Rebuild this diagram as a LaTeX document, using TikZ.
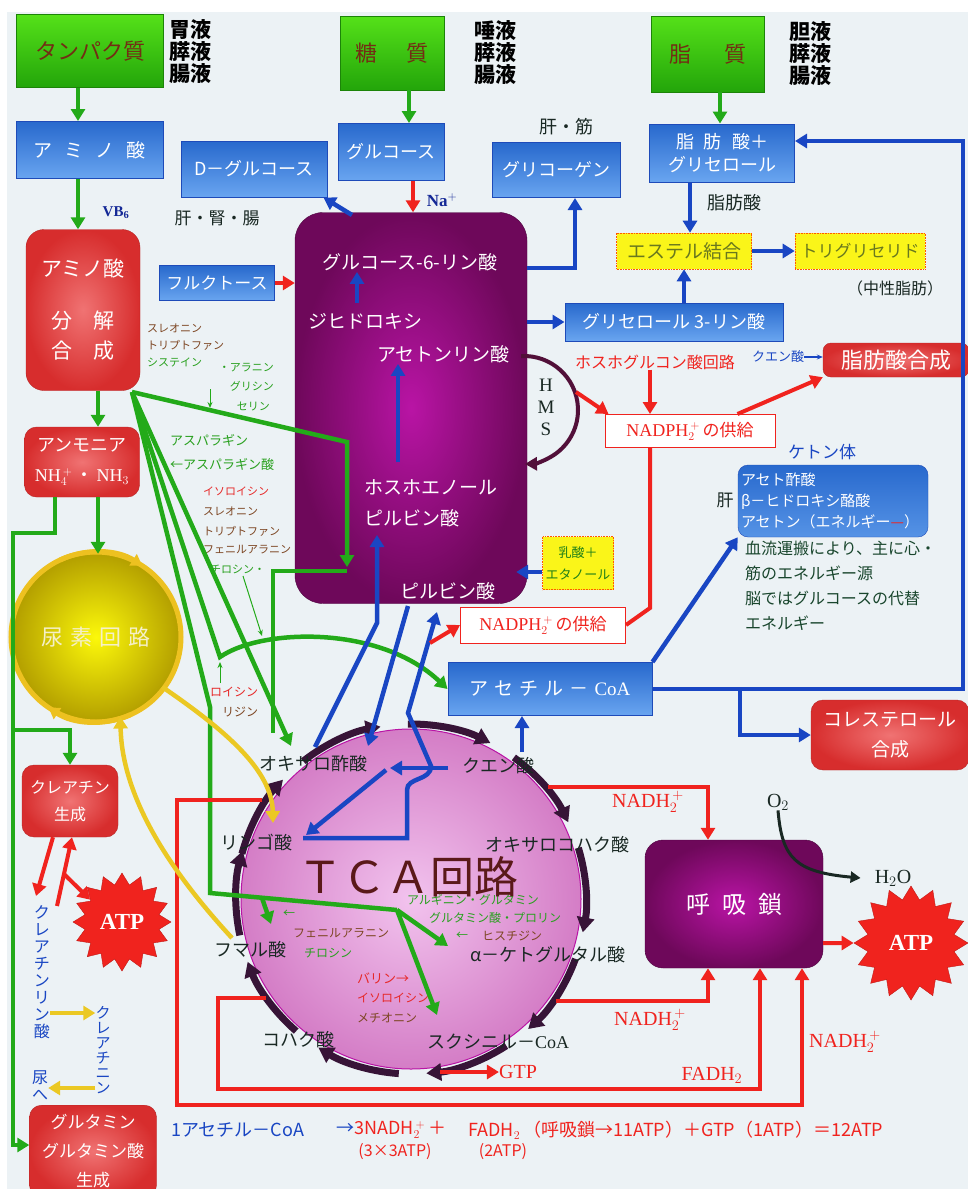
\documentclass[tikz,border=0pt]{standalone}
\usepackage{fontspec}
\setmainfont{Noto Sans CJK JP}
\newfontfamily\serifrm{Liberation Serif}
\usetikzlibrary{shapes.geometric, arrows.meta, positioning, calc}

\definecolor{bgpale}{RGB}{236,242,245}
\definecolor{grnhi}{RGB}{85,225,25}
\definecolor{grnlo}{RGB}{35,165,10}
\definecolor{grntxt}{RGB}{115,45,20}
\definecolor{bluehi}{RGB}{105,165,240}
\definecolor{bluelo}{RGB}{40,105,205}
\definecolor{blueedge}{RGB}{30,75,185}
\definecolor{redhi}{RGB}{240,115,115}
\definecolor{redlo}{RGB}{215,45,45}
\definecolor{purphi}{RGB}{185,20,165}
\definecolor{purplo}{RGB}{110,8,90}
\definecolor{boxyellow}{RGB}{250,245,25}
\definecolor{ylwtxt}{RGB}{105,120,30}
\definecolor{lineg}{RGB}{35,170,25}
\definecolor{lineb}{RGB}{25,70,195}
\definecolor{liner}{RGB}{240,35,30}
\definecolor{liney}{RGB}{235,200,35}
\definecolor{ringdark}{RGB}{55,20,55}
\definecolor{tcahi}{RGB}{242,195,238}
\definecolor{tcalo}{RGB}{212,125,198}
\definecolor{ureahi}{RGB}{252,248,10}
\definecolor{urealo}{RGB}{180,160,0}
\definecolor{ureatxt}{RGB}{245,240,200}
\definecolor{txtdark}{RGB}{25,40,35}
\definecolor{txtbrown}{RGB}{125,70,35}
\definecolor{txtgreen}{RGB}{40,160,30}
\definecolor{txtred}{RGB}{230,40,40}
\definecolor{navy}{RGB}{20,40,150}
\definecolor{kettxt}{RGB}{25,70,45}
\definecolor{tcatitle}{RGB}{90,25,25}

\newcommand\fsTCA{\fontsize{44}{48}\selectfont}
\newcommand\fsXL{\fontsize{22}{26}\selectfont}
\newcommand\fsJ{\fontsize{21}{22}\selectfont}
\newcommand\fsL{\fontsize{18}{22}\selectfont}
\newcommand\fsP{\fontsize{19}{22}\selectfont}
\newcommand\fsT{\fontsize{18}{22}\selectfont}
\newcommand\fsN{\fontsize{17}{21}\selectfont}
\newcommand\fsS{\fontsize{16}{21}\selectfont}
\newcommand\fsR{\fontsize{20}{24}\selectfont}
\newcommand\fsATP{\fontsize{23}{26}\selectfont}
\newcommand\fsXS{\fontsize{12}{15}\selectfont}
\newcommand\fsXXS{\fontsize{11}{14}\selectfont}
\newcommand\fsV{\fontsize{16}{17}\selectfont}

\tikzset{
  greenbox/.style={draw=grnlo!80!black, top color=grnhi, bottom color=grnlo, text=grntxt, font=\fsXL, inner sep=0pt},
  juice/.style={font=\fsJ\bfseries, align=center, text=black, inner sep=0pt},
  bluebox/.style={draw=blueedge, line width=1pt, top color=bluelo, bottom color=bluehi, text=white, font=\fsL, inner sep=0pt},
  redbox/.style={draw=redlo!85!black, rounded corners=12pt, inner color=redhi, outer color=redlo, text=white, font=\fsL, align=center, inner sep=0pt},
  purplebox/.style={draw=purplo!70!black, rounded corners=28pt, inner color=purphi, outer color=purplo, text=white, inner sep=0pt},
  ptext/.style={text=white, font=\fsP, inner sep=1pt},
  nadbox/.style={draw=liner, line width=1pt, fill=white, text=liner, font=\fsN, inner sep=0pt},
  ylwbox/.style={draw=orange!70!red, densely dotted, line width=0.6pt, fill=boxyellow, text=ylwtxt, inner sep=0pt},
  ketbox/.style={draw=blueedge, rounded corners=10pt, top color=bluelo, bottom color=bluehi!70!bluelo, text=white, font={\fontsize{15}{21}\selectfont}, align=left, inner sep=3pt},
  atpstar/.style={star, star points=16, star point ratio=1.3, fill=liner, draw=liner!80!black, text=white, font=\serifrm\bfseries\fsATP, inner sep=0pt},
  tcalbl/.style={text=txtdark, font=\fsT, inner sep=1pt},
  aalbl/.style={font=\fsXXS, inner sep=0pt, anchor=west},
  plainlbl/.style={text=txtdark, font=\fsN, inner sep=0pt},
  redlbl/.style={text=liner, font=\serifrm\fsR, inner sep=0pt},
  vertlbl/.style={text=lineb, font=\fsV, align=center, inner sep=0pt},
  garrow/.style={draw=lineg, line width=4.5pt, -{Triangle[length=12pt,width=14pt]}},
  gline/.style={draw=lineg, line width=4.5pt},
  gthin/.style={draw=lineg, line width=1pt, -{Stealth[length=6pt,width=5pt]}},
  barrow/.style={draw=lineb, line width=4.5pt, -{Triangle[length=12pt,width=14pt]}},
  bthin/.style={draw=lineb, line width=1.2pt, -{Stealth[length=6pt,width=5pt]}},
  rarrow/.style={draw=liner, line width=4pt, -{Triangle[length=12pt,width=14pt]}},
  rline/.style={draw=liner, line width=4pt},
  yarrow/.style={draw=liney, line width=4.5pt, -{Triangle[length=12pt,width=14pt]}},
  tcaring/.style={draw=ringdark, line width=7pt, -{Triangle[length=15pt,width=17pt]}},
  urearing/.style={draw=liney!90!orange, line width=5pt},
  ureaarr/.style={draw=liney!90!orange, line width=5pt, -{Triangle[length=11pt,width=13pt]}},
  hmsarc/.style={draw=ringdark!80!purple, line width=4pt, -{Triangle[length=12pt,width=13pt]}},
  darrow/.style={draw=txtdark, line width=3pt, -{Triangle[length=10pt,width=11pt]}},
}

\begin{document}
\begin{tikzpicture}[x=1pt, y=-1pt]
  \useasboundingbox (0,0) rectangle (968,1189);
  \fill[white] (0,0) rectangle (968,1189);
  \fill[bgpale] (7,12) rectangle (968,1189);

  % Inputs
  \node[greenbox, minimum width=147, minimum height=73] (prot) at (90,51) {タンパク質};
  \node[juice] (protjuice) at (190,52) {胃液\\膵液\\腸液};
  \node[greenbox, minimum width=104, minimum height=74] (sugar) at (392,53) {糖\hspace{30pt}質};
  \node[juice] (sugarjuice) at (495,53) {唾液\\膵液\\腸液};
  \node[greenbox, minimum width=113, minimum height=76] (lipid) at (708,54) {脂\hspace{33pt}質};
  \node[juice] (lipidjuice) at (810,54) {胆液\\膵液\\腸液};

  % Blue boxes
  \node[bluebox, minimum width=147, minimum height=57, font=\fontsize{19}{22}\selectfont] (amino) at (90,150) {ア\hspace{12pt}ミ\hspace{12pt}ノ\hspace{12pt}酸};
  \node[bluebox, minimum width=146, minimum height=56] (dglc) at (254,169) {D－グルコース};
  \node[bluebox, minimum width=106, minimum height=57] (glc) at (391,152) {グルコース};
  \node[bluebox, minimum width=128, minimum height=55] (glycogen) at (556,170) {グリコーゲン};
  \node[bluebox, minimum width=145, minimum height=58, align=center, font=\fontsize{18}{23}\selectfont] (fatgly) at (722,153) {脂\hspace{10pt}肪\hspace{10pt}酸＋\\グリセロール};
  \node[bluebox, minimum width=115, minimum height=35, font=\fontsize{17}{20}\selectfont] (fruct) at (217,283) {フルクトース};
  \node[bluebox, minimum width=218, minimum height=38] (g3p) at (674,322) {グリセロール 3-リン酸};
  \node[bluebox, minimum width=204, minimum height=53, font=\fontsize{19}{22}\selectfont] (acoa) at (550,689) {ア\hspace{6pt}セ\hspace{6pt}チ\hspace{6pt}ル\hspace{6pt}－\hspace{6pt}{\serifrm CoA}};

  % Red boxes
  \node[redbox, minimum width=114, minimum height=161, rounded corners=18pt, font=\fontsize{21}{30}\selectfont] (aamet) at (83,310) {アミノ酸\\[22pt]分\hspace{22pt}解\\合\hspace{22pt}成};
  \node[redbox, minimum width=115, minimum height=70, font=\fontsize{18}{30}\selectfont] (ammonia) at (82,462) {アンモニア\\{\serifrm NH}$_4^{\,+}$\,・\,{\serifrm NH}$_3$};
  \node[redbox, minimum width=146, minimum height=34, rounded corners=8pt, font=\fontsize{22}{24}\selectfont] (fasyn) at (896,360) {脂肪酸合成};
  \node[redbox, minimum width=158, minimum height=70, font=\fontsize{19}{30}\selectfont] (chol) at (890,735) {コレステロール\\合成};
  \node[redbox, minimum width=96, minimum height=72, font=\fontsize{16}{27}\selectfont] (creat) at (70,801) {クレアチン\\生成};
  \node[redbox, minimum width=127, minimum height=92, anchor=north, font=\fontsize{17}{29}\selectfont] (glnsyn) at (93,1105) {グルタミン\\グルタミン酸\\生成};

  % Glycolysis and respiration
  \node[purplebox, minimum width=232, minimum height=391] (glyc) at (411,408) {};
  \node[ptext] (g6p) at (410,262) {グルコース-6-リン酸};
  \node[ptext, anchor=west] (dhap1) at (307,321) {ジヒドロキシ};
  \node[ptext, anchor=west] (dhap2) at (376,354) {アセトンリン酸};
  \node[ptext, anchor=west] (pep1) at (363,487) {ホスホエノール};
  \node[ptext, anchor=west] (pep2) at (363,518) {ピルビン酸};
  \node[ptext] (pyr) at (448,591) {ピルビン酸};
  \node[purplebox, rounded corners=18pt, minimum width=178, minimum height=128, font=\fontsize{24}{26}\selectfont] (resp) at (734,904) {呼\hspace{12pt}吸\hspace{12pt}鎖};

  % Small boxes
  \node[nadbox, minimum width=170, minimum height=33] (nadph1) at (690,431) {{\serifrm\fontsize{18}{20}\selectfont NADPH}$_2^{\,+}$\,の供給};
  \node[nadbox, minimum width=165, minimum height=36] (nadph2) at (543,625) {{\serifrm\fontsize{18}{20}\selectfont NADPH}$_2^{\,+}$\,の供給};
  \node[ylwbox, minimum width=135, minimum height=36, font=\fontsize{19}{22}\selectfont] (ester) at (684,251) {エステル結合};
  \node[ylwbox, minimum width=130, minimum height=36, font=\fontsize{17}{20}\selectfont] (tg) at (860,251) {トリグリセリド};
  \node[ylwbox, minimum width=71, minimum height=53, align=center, text=txtgreen!80!black, font=\fontsize{13}{22}\selectfont] (lactate) at (578,563) {乳酸＋\\エタノール};
  \node[ketbox, minimum width=190, minimum height=72, text width=184] (ketone) at (833,501) {アセト酢酸\\β－ヒドロキシ酪酸\\アセトン（エネルギー{\color{liner}—}）};

  % Cycles
  \node[circle, minimum size=166, inner sep=0pt, inner color=ureahi, outer color=urealo, text=ureatxt, font=\fontsize{22}{24}\selectfont] (urea) at (96,637) {尿\hspace{7pt}素\hspace{7pt}回\hspace{7pt}路};
  \draw[urearing] (urea.center) circle[radius=85];
  \draw[ureaarr] ($(urea.center)+(-115:85)$) arc[start angle=-115, delta angle=58, radius=85];
  \draw[ureaarr] ($(urea.center)+(66:85)$) arc[start angle=66, delta angle=58, radius=85];
  \node[circle, minimum size=340, inner sep=0pt, inner color=tcahi, outer color=tcalo, draw=purphi, line width=1pt] (tca) at (411,899) {};
  \foreach \a in {-165,-128,...,170}
    \draw[tcaring] ($(tca.center)+(\a:175)$) arc[start angle=\a, delta angle=28, radius=175];
  \coordinate (hms-c) at (524,410);
  \draw[hmsarc] ($(hms-c)+(-93:54)$) arc[start angle=-93, delta angle=182, radius=54];

  % ATP
  \node[atpstar, minimum size=98] (atp1) at (122,922) {ATP};
  \node[atpstar, minimum size=114] (atp2) at (911,943) {ATP};

  % Labels
  \node[font=\serifrm\bfseries\fontsize{15}{18}\selectfont, text=navy, inner sep=0pt] (vb) at (116,213) {VB\textsubscript{6}};
  \node[plainlbl] (liverkid) at (217,218) {肝・腎・腸};
  \node[plainlbl, font=\fontsize{18}{20}\selectfont] (livmus) at (566,127) {肝・筋};
  \node[font=\serifrm\bfseries\fsN, text=navy, inner sep=0pt] (na) at (442,200) {Na$^+$};
  \node[plainlbl, font=\fontsize{18}{20}\selectfont] (falbl) at (734,203) {脂肪酸};
  \node[plainlbl, font=\fsS] (neutral) at (895,288) {（中性脂肪）};
  \node[font=\serifrm\fontsize{19}{22}\selectfont, text=txtdark, align=center, inner sep=0pt] (hms) at (546,407) {H\\M\\S};
  \node[text=liner, font=\fsS, inner sep=0pt] (pgpath) at (655,362) {ホスホグルコン酸回路};
  \node[text=lineb, font=\fontsize{13}{15}\selectfont, inner sep=0pt] (citlbl) at (778,357) {クエン酸};
  \node[text=lineb, font=\fsN, inner sep=0pt] (ketlbl) at (822,452) {ケトン体};
  \node[plainlbl] (liver) at (725,500) {肝};
  \node[text=kettxt, font={\fontsize{16}{25}\selectfont}, align=left, anchor=north west, inner sep=0pt] (ketnote) at (745,541) {血流運搬により、主に心・\\筋のエネルギー源\\脳ではグルコースの代替\\エネルギー};

  % Amino acid labels
  \node[aalbl, text=txtbrown] (thr1) at (147,328) {スレオニン};
  \node[aalbl, text=txtbrown] (trp1) at (147,345) {トリプトファン};
  \node[aalbl, text=txtgreen] (cys) at (147,362) {システイン};
  \node[aalbl, text=txtgreen, anchor=east] (ala) at (274,368) {・アラニン};
  \node[aalbl, text=txtgreen, anchor=east] (gly) at (274,386) {グリシン};
  \node[aalbl, text=txtgreen, anchor=east] (ser) at (270,406) {セリン};
  \node[aalbl, text=txtgreen, font=\fontsize{13}{15}\selectfont] (asn) at (170,440) {アスパラギン};
  \node[aalbl, text=txtgreen, font=\fontsize{13}{15}\selectfont] (asp) at (170,464) {←アスパラギン酸};
  \node[aalbl, text=txtred] (ile1) at (203,491) {イソロイシン};
  \node[aalbl, text=txtbrown] (thr2) at (203,511) {スレオニン};
  \node[aalbl, text=txtbrown] (trp2) at (203,531) {トリプトファン};
  \node[aalbl, text=txtbrown] (phe1) at (203,550) {フェニルアラニン};
  \node[aalbl, text=txtgreen] (tyr1) at (210,569) {チロシン・};
  \node[aalbl, text=txtred, font=\fsXS] (leu) at (210,692) {ロイシン};
  \node[aalbl, text=txtbrown, font=\fsXS] (lys) at (222,712) {リジン};
  \node[aalbl, anchor=center, text=txtgreen, font=\fsXS] (argl) at (473,900) {アルギニン・グルタミン};
  \node[aalbl, anchor=center, text=txtgreen, font=\fsXS] (glul) at (495,918) {グルタミン酸・プロリン};
  \node[aalbl, text=txtgreen, font=\fsXS] (hisarr) at (456,936) {←};
  \node[aalbl, text=txtbrown, font=\fsXS] (his) at (482,936) {ヒスチジン};
  \node[aalbl, text=txtgreen, font=\fsXS] (phearr) at (283,914) {←};
  \node[aalbl, text=txtbrown, font=\fsXS] (phe2) at (293,933) {フェニルアラニン};
  \node[aalbl, text=txtgreen, font=\fsXS] (tyr2) at (304,953) {チロシン};
  \node[aalbl, text=txtred, font=\fontsize{13}{15}\selectfont] (val) at (357,978) {バリン→};
  \node[aalbl, text=txtred, font=\fsXS] (ile2) at (357,998) {イソロイシン};
  \node[aalbl, text=txtbrown, font=\fsXS] (met) at (357,1018) {メチオニン};

  % TCA labels
  \node[font=\fsTCA, text=tcatitle, inner sep=0pt] (tcatitle) at (408,877) {ＴＣＡ回路};
  \node[tcalbl] (oaa) at (313,764) {オキサロ酢酸};
  \node[tcalbl] (cit) at (498,766) {クエン酸};
  \node[tcalbl] (oxs) at (557,845) {オキサロコハク酸};
  \node[tcalbl] (akg) at (548,955) {α－ケトグルタル酸};
  \node[tcalbl] (scoa) at (498,1042) {スクシニル－{\serifrm CoA}};
  \node[tcalbl] (succ) at (298,1040) {コハク酸};
  \node[tcalbl] (fum) at (250,950) {フマル酸};
  \node[tcalbl] (mal) at (256,843) {リンゴ酸};

  % Respiration labels
  \node[redlbl] (nadh1lbl) at (648,802) {NADH$_2^{\,+}$};
  \node[redlbl] (nadh2lbl) at (650,1020) {NADH$_2^{\,+}$};
  \node[redlbl] (fadhlbl) at (712,1075) {FADH$_2$};
  \node[redlbl] (nadh3lbl) at (845,1042) {NADH$_2^{\,+}$};
  \node[redlbl] (gtp) at (518,1072) {GTP};
  \node[font=\serifrm\fsR, text=txtdark, inner sep=0pt] (o2) at (778,802) {O$_2$};
  \node[font=\serifrm\fsR, text=txtdark, inner sep=0pt] (h2o) at (893,878) {H$_2$O};

  % Creatine labels
  \node[vertlbl] (crp) at (42,972) {ク\\レ\\ア\\チ\\ン\\リ\\ン\\酸};
  \node[vertlbl, font=\fontsize{15}{15}\selectfont] (crn) at (103,1050) {ク\\レ\\ア\\チ\\ニ\\ン};
  \node[vertlbl] (urine) at (40,1086) {尿\\へ};

  % Formula
  \node[font=\fontsize{18}{20}\selectfont, text=lineb, anchor=west, inner sep=0pt] (f1) at (171,1130) {1アセチル－CoA};
  \node[font=\fontsize{18}{20}\selectfont, text=liner, anchor=west, inner sep=0pt] (f2) at (336,1130) {{\color{lineb}→}3NADH$_2^{\,+}$\,＋};
  \node[font=\fontsize{18}{20}\selectfont, text=liner, anchor=west, inner sep=0pt] (f3) at (468,1130) {FADH$_2$\,（呼吸鎖→11ATP）＋GTP（1ATP）＝12ATP};
  \node[font=\fontsize{16}{20}\selectfont, text=liner, inner sep=0pt] (f4) at (395,1152) {(3×3ATP)};
  \node[font=\fontsize{16}{20}\selectfont, text=liner, inner sep=0pt] (f5) at (503,1152) {(2ATP)};

  % Coordinates
  \coordinate (aa-fan) at (132,392);
  \coordinate (g-in) at (347,567);
  \coordinate (g-out) at (347,571);
  \coordinate (g-down) at (273,733);
  \coordinate (oaa-in) at (291,746);
  \coordinate (tca-fork) at (397,910);
  \coordinate (fum-fork) at (262,898);
  \coordinate (fum-in) at (271,924);
  \coordinate (akg-in) at (448,946);
  \coordinate (succ-in) at (437,1015);
  \coordinate (lw-top) at (13,533);
  \coordinate (lw-creat) at (13,730);
  \coordinate (lw-bot) at (13,1145);
  \coordinate (glyc-dg) at (352,215);
  \coordinate (dh-up) at (357,303);
  \coordinate (pep-up) at (398,462);
  \coordinate (oaa-b1) at (315,747);
  \coordinate (pep-in) at (377,535);
  \coordinate (pyr-b) at (408,606);
  \coordinate (oaa-b2) at (368,746);
  \coordinate (mal-b) at (303,838);
  \coordinate (pyr-in) at (437,612);
  \coordinate (cit-b) at (448,768);
  \coordinate (cit-mid) at (390,768);
  \coordinate (mal-b2) at (306,835);
  \coordinate (cit-up) at (522,752);
  \coordinate (loop-tr) at (963,141);
  \coordinate (chol-br) at (740,689);
  \coordinate (hms-out) at (576,392);
  \coordinate (mal-red) at (430,643);
  \coordinate (crp-in) at (36,896);
  \coordinate (crp-out) at (57,906);
  \coordinate (crp-atp) at (64,874);
  \coordinate (tca-nadh1) at (548,787);
  \coordinate (tca-nadh2) at (556,1001);
  \coordinate (tca-fadh) at (266,998);
  \coordinate (fadh-bl) at (218,1089);
  \coordinate (tca-nadh3) at (262,800);
  \coordinate (nadh-bl) at (177,1105);
  \coordinate (gtp-start) at (440,1072);
  \coordinate (mal-y) at (273,823);
  \coordinate (fum-y) at (232,938);

  % Green: digestion and amino acids
  \draw[garrow] ([xshift=-12]prot.south) -- ([xshift=-12]amino.north);
  \draw[garrow] ([xshift=17]sugar.south) -- ([xshift=17]sugar.south |- glc.north);
  \draw[garrow] ([xshift=12]lipid.south) -- ([xshift=12]lipid.south |- fatgly.north);
  \draw[garrow] ([xshift=-12]amino.south) -- ([xshift=-12]amino.south |- aamet.north);
  \draw[garrow] ([xshift=15]aamet.south) -- ([xshift=15]aamet.south |- ammonia.north);
  \draw[garrow] ([xshift=16]ammonia.south) -- ([xshift=16]ammonia.south |- urea.north);
  \draw[garrow] ([xshift=-27]ammonia.south) |- (lw-top) -- (lw-bot) -- (glnsyn.west |- lw-bot);
  \draw[garrow] (lw-creat) -| (creat.north);
  \draw[garrow] (aa-fan) -- (347,442) -- (g-in);
  \draw[gline] (g-out) -- (273,571) -- (g-down);
  \draw[garrow] (aa-fan) -- (220,657) .. controls (262,628) and (380,625) .. (acoa.west);
  \draw[garrow] (aa-fan) -- (oaa-in);
  \draw[gline] (aa-fan) -- (210,707) -- (210,893) -- (tca-fork);
  \draw[garrow] (tca-fork) -- (akg-in);
  \draw[garrow] (tca-fork) -- (succ-in);
  \draw[garrow] (fum-fork) -- (fum-in);
  \draw[gthin] (210,389) -- (210,408);
  \draw[gthin] (220,683) -- (220,662);
  \draw[gthin] (243,576) -- (262,636);

  % Blue: sugars, lipids, acetyl-CoA
  \draw[barrow] (glyc-dg) -- ([xshift=-4]dglc.south east);
  \draw[barrow] ($(glyc.east)+(0,-140)$) -| ([xshift=19]glycogen.south);
  \draw[barrow] (glyc.east |- g3p.west) -- (g3p.west);
  \draw[barrow] ([xshift=-32]fatgly.south) -- ([xshift=-32]fatgly.south |- ester.north);
  \draw[barrow] (g3p.north -| ester.south) -- (ester.south);
  \draw[barrow] (ester.east) -- (tg.west);
  \draw[barrow] (dh-up) -- (g6p.south -| dh-up);
  \draw[barrow] (pep-up) -- (dhap2.south -| pep-up);
  \draw[barrow] ($(lactate.west)+(0,9)$) -- ++(-26,0);
  \draw[barrow] (oaa-b1) -- (377,623) -- (pep-in);
  \draw[barrow] (pyr-b) -- (oaa-b2);
  \draw[barrow] (mal-b) -- (407,838) -- (407,790) .. controls (407,777) and (431,781) .. (431,766) -- (408,713) -- (pyr-in);
  \draw[barrow] (cit-b) -- (cit-mid);
  \draw[barrow] (386,770) -- (mal-b2);
  \draw[barrow] (cit-up) -- (acoa.south -| cit-up);
  \draw[barrow] (acoa.east) -- (acoa.east -| loop-tr) -- (loop-tr) -- (loop-tr -| fatgly.east);
  \draw[barrow] (chol-br) |- (chol.west);
  \draw[barrow] (acoa.north east) -- (ketone.south west);
  \draw[bthin] (citlbl.east) -- (citlbl.east -| fasyn.west);

  % Red: NADPH, creatine, respiration
  \draw[rarrow] ([xshift=22]glc.south) -- ([xshift=22]glc.south |- glyc.north);
  \draw[rarrow] (fruct.east) -- (fruct.east -| glyc.west);
  \draw[rarrow] ([xshift=-5]pgpath.south) -- ([xshift=-5]pgpath.south |- nadph1.north);
  \draw[rarrow] (hms-out) -- ([xshift=4]nadph1.north west);
  \draw[rarrow] ([xshift=-38]nadph1.north east) -- (fasyn.south west);
  \draw[rline] ([xshift=-40]nadph1.south) -- ($(nadph1.south)+(-40,160)$) -- (nadph2.east);
  \draw[rarrow] (mal-red) -- (nadph2.west);
  \draw[rarrow] ([xshift=-17]creat.south) -- (crp-in);
  \draw[rarrow] (crp-out) -- ([xshift=2]creat.south);
  \draw[rarrow] (crp-atp) -- (atp1.145);
  \draw[rarrow] (tca-nadh1) -| ([xshift=-26]resp.north);
  \draw[rarrow] (tca-nadh2) -| ([xshift=-26]resp.south);
  \draw[rarrow] (tca-fadh) -| (fadh-bl) -| ([xshift=26]resp.south);
  \draw[rarrow] (tca-nadh3) -| (nadh-bl) -| ([xshift=68]resp.south);
  \draw[rarrow] (gtp-start) -- (gtp.west);
  \draw[rarrow] ($(resp.east)+(0,39)$) -- (atp2.west);
  \draw[darrow] (o2.south) .. controls (782,858) and (795,872) .. ([xshift=-14]h2o.west);

  % Yellow
  \draw[yarrow] (urea.-37) .. controls (225,730) and (272,770) .. (mal-y);
  \draw[yarrow] (fum-y) .. controls (160,860) and (122,790) .. (urea.-73);
  \draw[yarrow] (crp.east |- 0,1013) -- (crn.west |- 0,1013);
  \draw[yarrow] (crn.west |- 0,1088) -- (urine.east |- 0,1088);
\end{tikzpicture}
\end{document}
